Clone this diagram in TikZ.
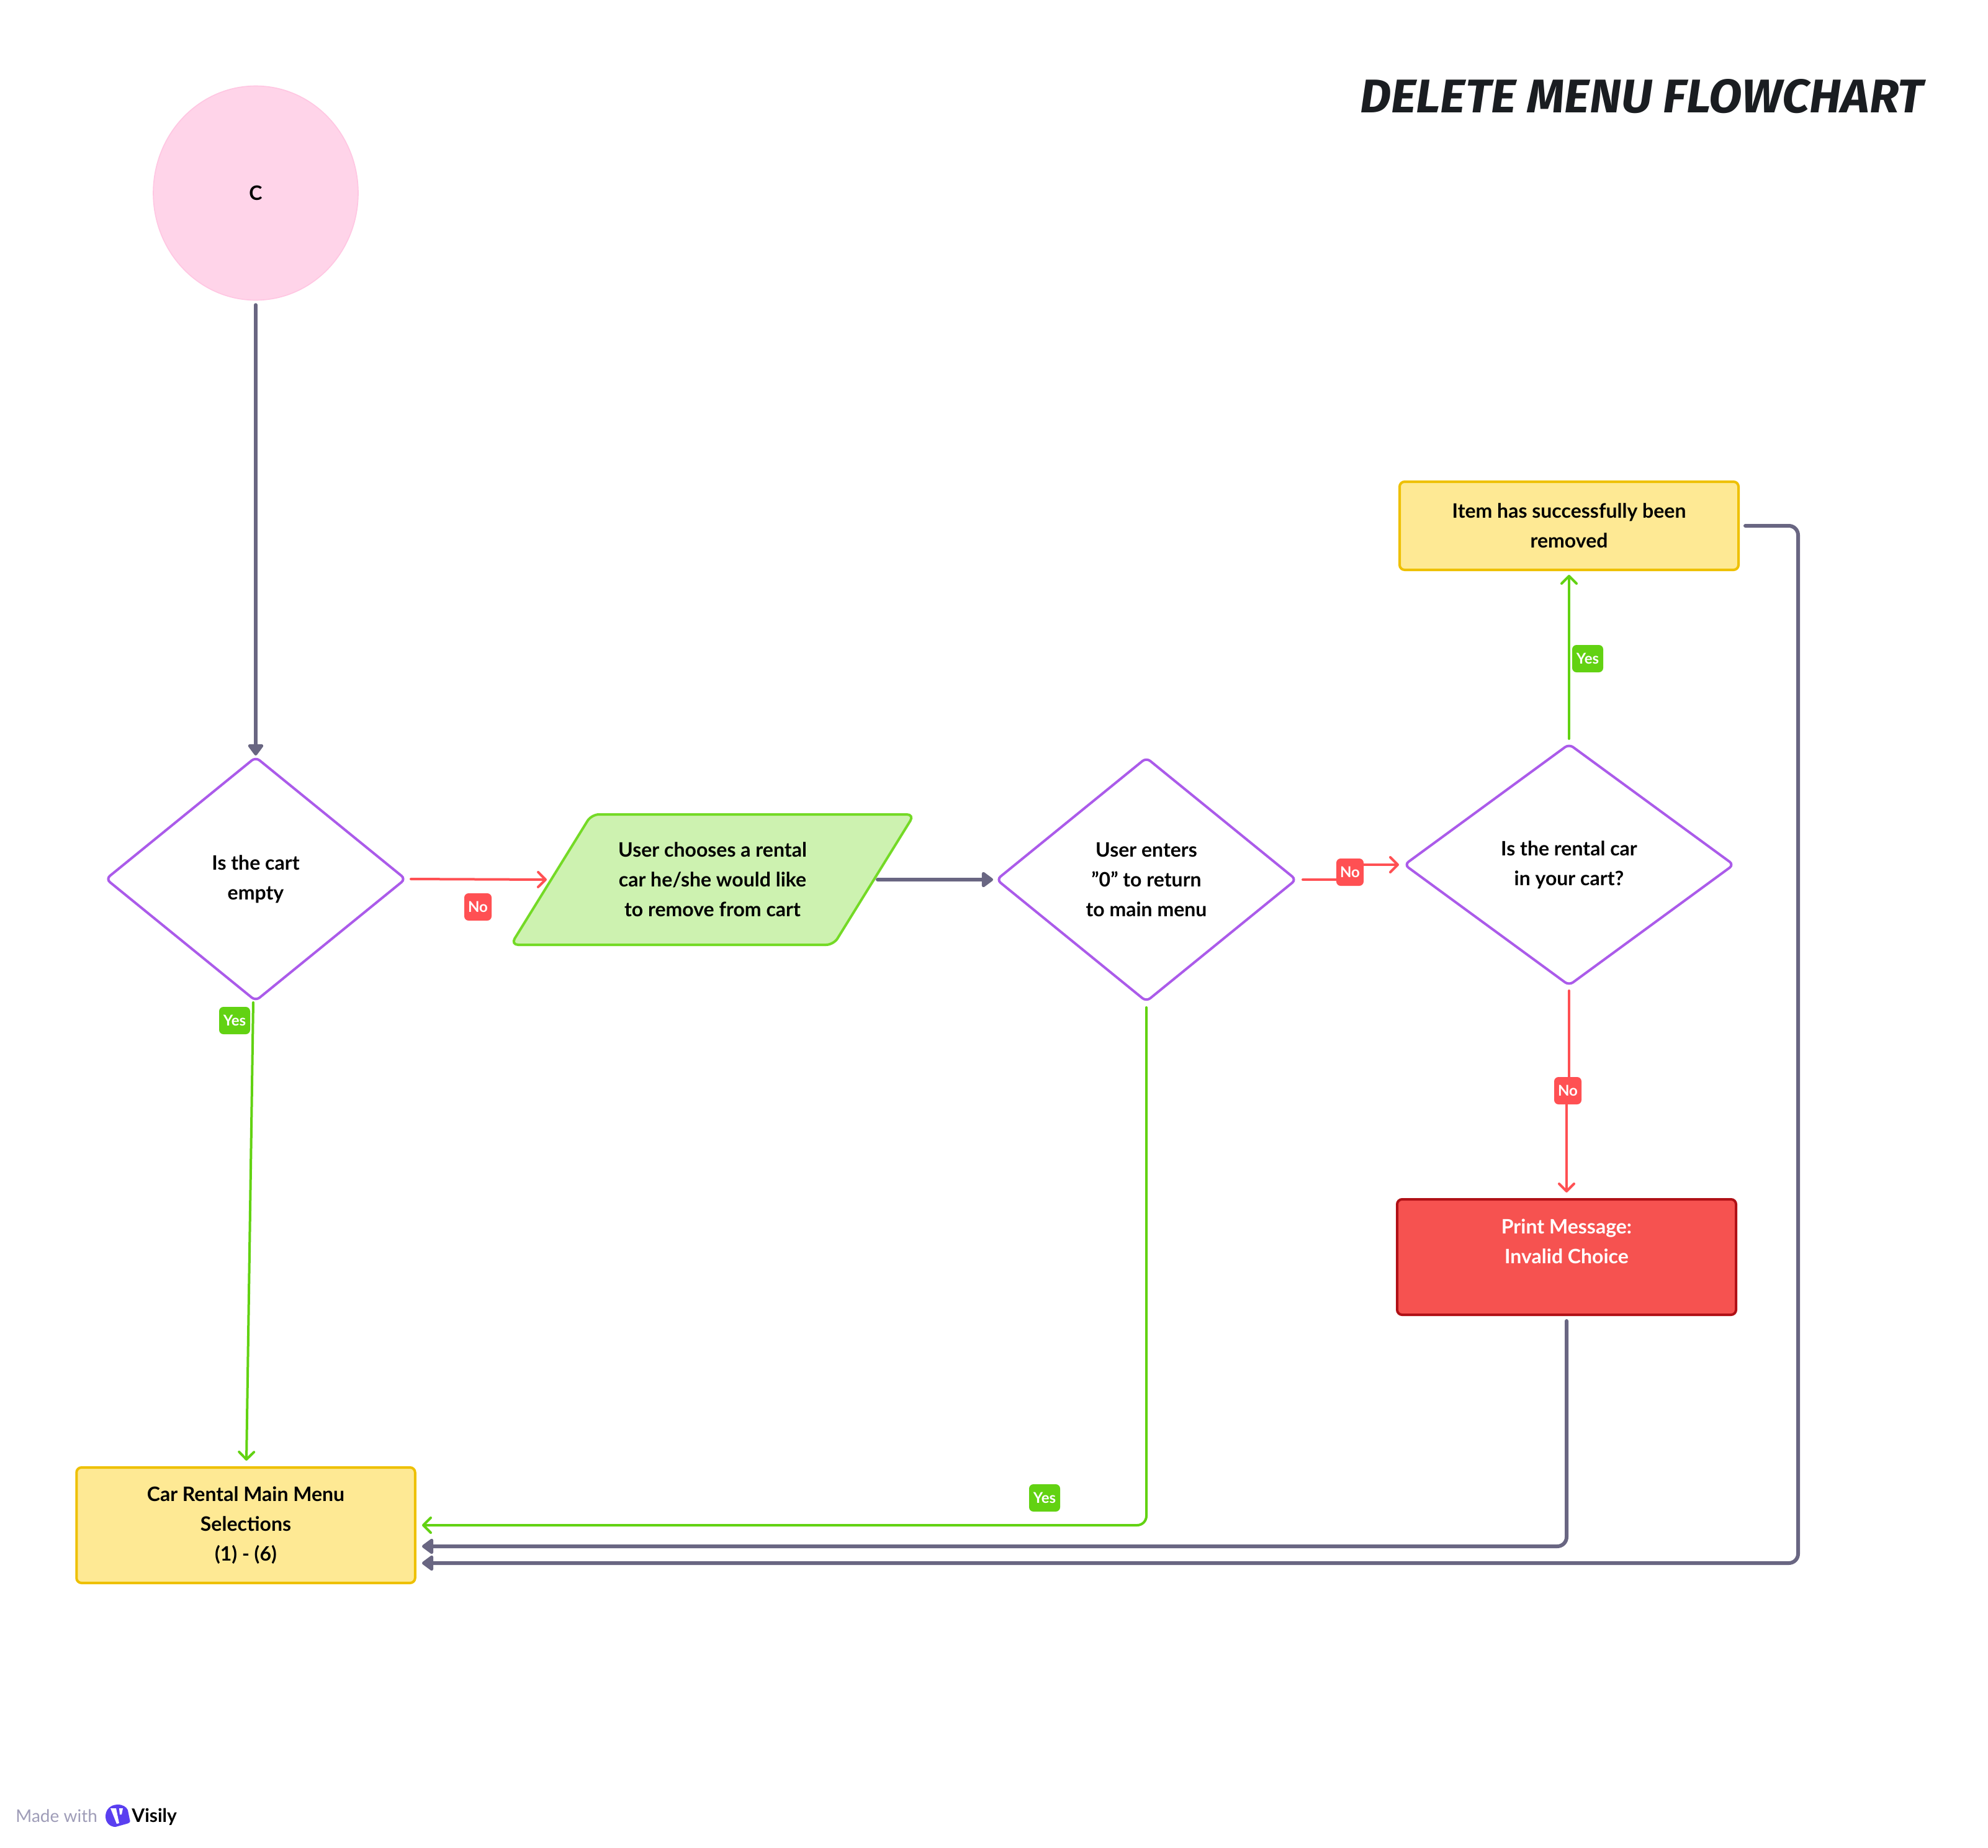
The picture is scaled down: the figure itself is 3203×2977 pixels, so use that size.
\documentclass[tikz,border=0pt]{standalone}
\usepackage{fontspec}
\setmainfont{Lato}
\newfontfamily\titlefont{Fira Sans}
\usetikzlibrary{arrows.meta,calc,shapes.geometric}
\definecolor{lineGrey}{HTML}{696682}
\definecolor{lineRed}{HTML}{FF5053}
\definecolor{lineGreen}{HTML}{62D212}
\definecolor{diaPurple}{HTML}{AB5BEA}
\definecolor{yelFill}{HTML}{FEE994}
\definecolor{yelLine}{HTML}{EEC000}
\definecolor{grFill}{HTML}{CDF2B0}
\definecolor{grLine}{HTML}{74DA26}
\definecolor{redFill}{HTML}{F65250}
\definecolor{redLine}{HTML}{B01016}
\definecolor{pinkFill}{HTML}{FFD4E9}
\definecolor{pinkLine}{HTML}{FFC6E2}
\definecolor{titleInk}{HTML}{1A1D21}
\definecolor{madeInk}{HTML}{9F9DB8}
\definecolor{logoBlue}{HTML}{5A3FF0}
\tikzset{
  x=0.5pt,y=-0.5pt,
  txt/.style={font=\bfseries\fontsize{16}{24}\selectfont,align=center,text=black,inner sep=0pt},
  flowbox/.style={draw,line width=2pt,rounded corners=4pt,inner sep=0pt},
  dia/.style={diamond,draw=diaPurple,fill=white,line width=2pt,rounded corners=4pt,txt},
  thinarrow/.style={line width=2pt,line cap=round,rounded corners=7.5pt,-{Straight Barb[length=6pt,width=12pt,line width=2pt,round]}},
  greyarrow/.style={draw=lineGrey,line width=3pt,line cap=round,rounded corners=7.5pt,-{Triangle[length=10pt,width=14pt,round]}},
  badge/.style={rounded corners=3.5pt,inner sep=0pt,font=\bfseries\fontsize{12}{12}\selectfont,text=white,minimum height=22pt,align=center},
  yesbadge/.style={badge,fill=lineGreen,minimum width=25pt},
  nobadge/.style={badge,fill=lineRed,minimum width=22pt},
}
\begin{document}
\begin{tikzpicture}
\useasboundingbox (0,0) rectangle (3203,2977);
\fill[white] (0,0) rectangle (3203,2977);
% title
\node (title) [inner sep=0pt,text=titleInk] at (2645,155) {\resizebox{454pt}{27pt}{\titlefont\bfseries\itshape DELETE MENU FLOWCHART}};
% start
\node (c) [ellipse,draw=pinkLine,fill=pinkFill,line width=0.8pt,minimum width=165pt,minimum height=172.5pt,txt] at (412,311) {C};
% decisions
\node (d1) [dia,shape aspect=1.23,minimum width=242pt,minimum height=197pt] at (412,1416) {Is the cart\\empty};
\node (d2) [dia,shape aspect=1.23,minimum width=242pt,minimum height=197pt] at (1847,1417) {User enters\\"0" to return\\to main menu};
\node (d3) [dia,shape aspect=1.36,minimum width=266pt,minimum height=195pt] at (2528,1393) {Is the rental car\\in your cart?};
% parallelogram
\draw[flowbox,draw=grLine,fill=grFill,rounded corners=6pt] (953,1312) -- (1473,1312) -- (1343,1522) -- (823,1522) -- cycle;
\node (pt) [txt] at (1148,1417) {User chooses a rental\\car he/she would like\\to remove from cart};
\coordinate (pw) at (881,1417);
\coordinate (pe) at (1414,1417);
% boxes
\node (main) [flowbox,draw=yelLine,fill=yelFill,minimum width=272.75pt,minimum height=93pt,txt] at (396,2457) {Car Rental Main Menu\\Selections\\(1) - (6)};
\node (item) [flowbox,draw=yelLine,fill=yelFill,minimum width=273pt,minimum height=71pt,txt] at (2528,847) {Item has successfully been\\removed};
\node (err) [flowbox,draw=redLine,fill=redFill,minimum width=273pt,minimum height=93pt] at (2524,2025) {};
\node (errt) [txt,text=white] at (2524,2000) {Print Message:\\Invalid Choice};
% connector ends
\coordinate (ga) at (680,2457);
\coordinate (gb) at (680,2491);
\coordinate (gc) at (680,2518);
\coordinate (itemout) at (2812,847);
\coordinate (y1s) at (408,1615);
\coordinate (y1e) at (397,2353);
% connectors
\draw[greyarrow,shorten <=3.5pt] (c.south) -- (d1.north);
\draw[thinarrow,lineRed,shorten <=3pt] (d1.east) -- (pw);
\draw[greyarrow] (pe) -- (1600,1417);
\draw[thinarrow,lineRed,shorten <=4pt,rounded corners=0pt,shorten >=3pt] (d2.east) -- (2175,1417) -- (2175,1393) -- (d3.west);
\draw[thinarrow,lineGreen,shorten <=3pt,shorten >=3pt] (d3.north) -- (item.south);
\draw[thinarrow,lineRed,rounded corners=0pt,shorten <=3pt,shorten >=4.5pt] (d3.south) -- (2528,1757) -- (2524,1757) -- (err.north);
\draw[thinarrow,lineGreen] (y1s) -- (y1e);
\draw[thinarrow,lineGreen,shorten <=3.5pt] (d2.south) -- (1847,2457) -- (ga);
\draw[greyarrow,shorten <=4pt] (err.south) -- (2524,2491) -- (gb);
\draw[greyarrow] (itemout) -- (2897,847) -- (2897,2518) -- (gc);
% badges
\node (n1) [nobadge] at (770,1461) {No};
\node (n2) [nobadge] at (2175,1405) {No};
\node (n3) [nobadge] at (2526,1757) {No};
\node (y1) [yesbadge] at (378,1644) {Yes};
\node (y2) [yesbadge] at (1683,2413) {Yes};
\node (y3) [yesbadge] at (2558,1061) {Yes};
% credit
\node (made) [anchor=base west,inner sep=0pt,font=\fontsize{14}{14}\selectfont,text=madeInk] at (25,2935) {Made with};
\fill[logoBlue] (190,2907) .. controls (178,2907) and (170,2915) .. (170,2926) .. controls (170,2937) and (178,2943) .. (186,2943) -- (204,2938) .. controls (208,2937) and (211,2935) .. (209,2931) -- (206,2916) .. controls (204,2911) and (198,2907) .. (190,2907) -- cycle;
\fill[white] (178,2913) -- (187,2913) -- (192,2937) -- (188,2938) -- cycle;
\fill[white] (192,2913) -- (198,2913) -- (196,2923) -- (193,2923) -- cycle;
\node (vis) [anchor=base west,inner sep=0pt,font=\bfseries\fontsize{15}{15}\selectfont,text=black] at (212,2935) {Visily};
\end{tikzpicture}
\end{document}
